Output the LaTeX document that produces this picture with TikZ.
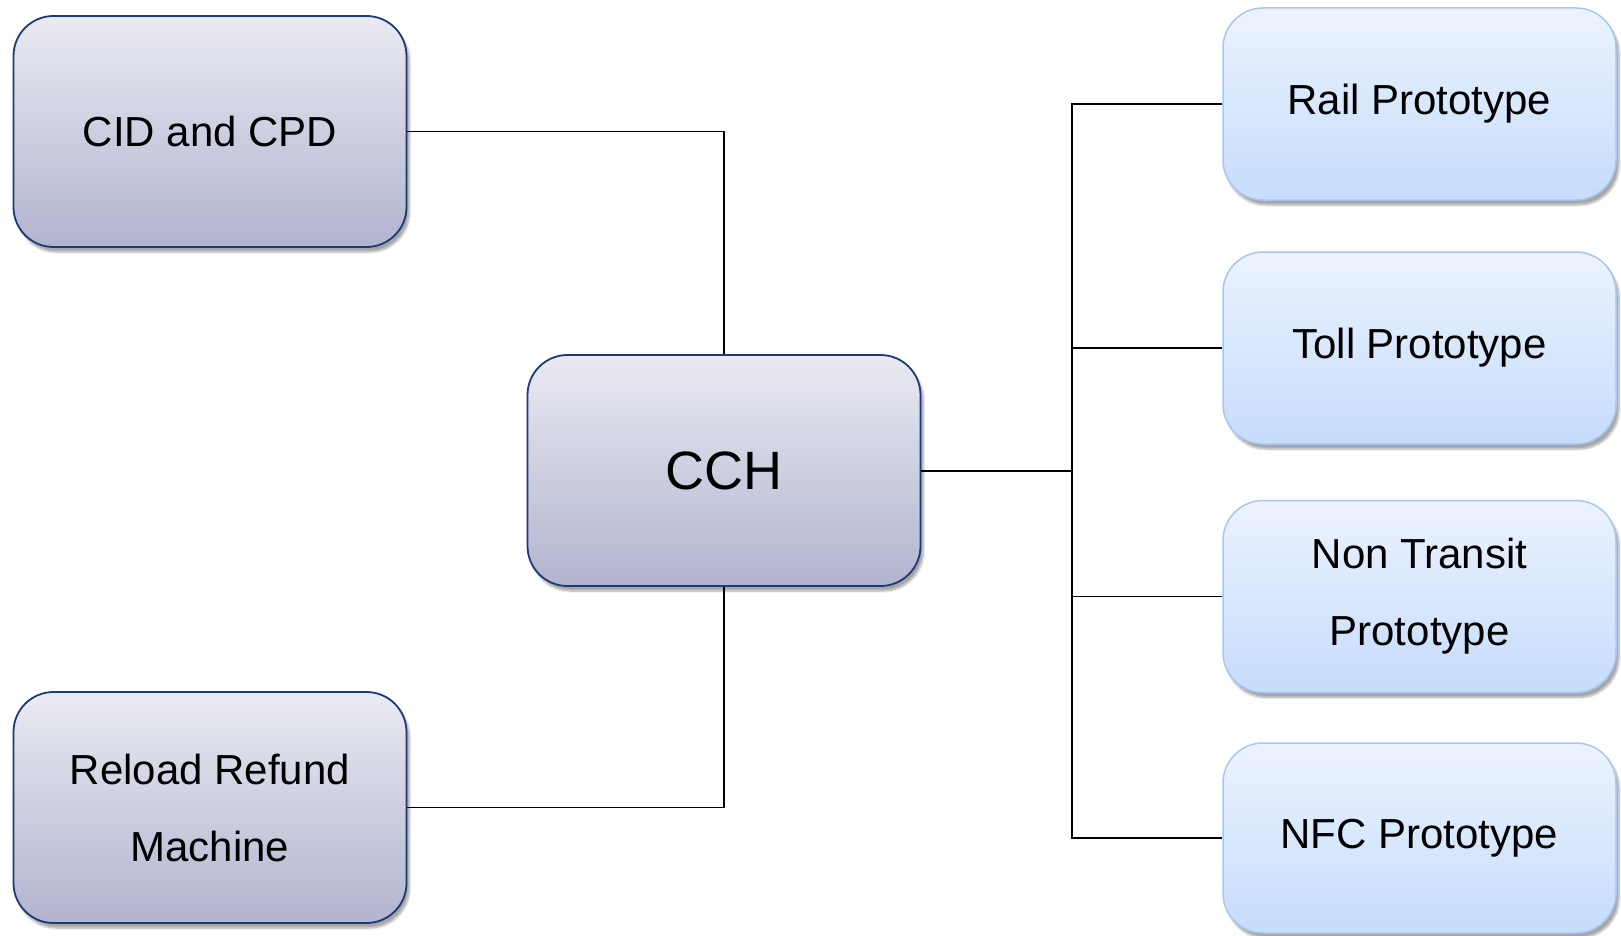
\documentclass[tikz,border=0pt]{standalone}
\usepackage{fontspec}
\setmainfont{Liberation Sans}
\usetikzlibrary{shadows.blur}
\definecolor{lefttop}{HTML}{E9EAF2}
\definecolor{leftbot}{HTML}{B2B4CF}
\definecolor{leftdraw}{HTML}{1C3A78}
\definecolor{righttop}{HTML}{ECF3FE}
\definecolor{rightbot}{HTML}{C5DCFB}
\definecolor{rightdraw}{HTML}{A8C7F0}
\tikzset{
  boxbase/.style={rectangle, rounded corners=40pt, inner sep=0pt, align=center,
    font=\fontsize{42}{77}\selectfont,
    blur shadow={shadow xshift=3pt, shadow yshift=-5pt, shadow blur steps=6, shadow opacity=35}},
  leftbox/.style={boxbase, draw=leftdraw, line width=1.8pt, top color=lefttop, bottom color=leftbot,
    minimum width=393pt, minimum height=231pt},
  rightbox/.style={boxbase, draw=rightdraw, line width=1.5pt, top color=righttop, bottom color=rightbot,
    minimum width=393pt, minimum height=192pt},
  conn/.style={draw=black, line width=1.5pt},
}
\begin{document}
\begin{tikzpicture}[x=1pt,y=-1pt]
\useasboundingbox (0,0) rectangle (1621,936);
\node[leftbox] (cid) at (210,131.5) {CID and CPD};
\node[leftbox, font=\fontsize{54}{60}\selectfont] (cch) at (724,470.5) {CCH};
\node[leftbox] (reload) at (210,807.5) {Reload Refund\\Machine};
\node[rightbox] (rail) at (1419.5,104) {Rail Prototype};
\node[rightbox] (toll) at (1419.5,348) {Toll Prototype};
\node[rightbox] (nontransit) at (1419.5,596.5) {Non Transit\\Prototype};
\node[rightbox, minimum height=190pt] (nfc) at (1419.5,838) {NFC Prototype};
\coordinate (bus) at (1072,470.5);
\draw[conn] (cid.east) -| (cch.north);
\draw[conn] (reload.east) -| (cch.south);
\draw[conn, line width=2pt] (cch.east) -- (bus);
\draw[conn] (rail.west) -- (rail.west -| bus) -- (nfc.west -| bus) -- (nfc.west);
\draw[conn] (toll.west) -- (toll.west -| bus);
\draw[conn] (nontransit.west) -- (nontransit.west -| bus);
\end{tikzpicture}
\end{document}
